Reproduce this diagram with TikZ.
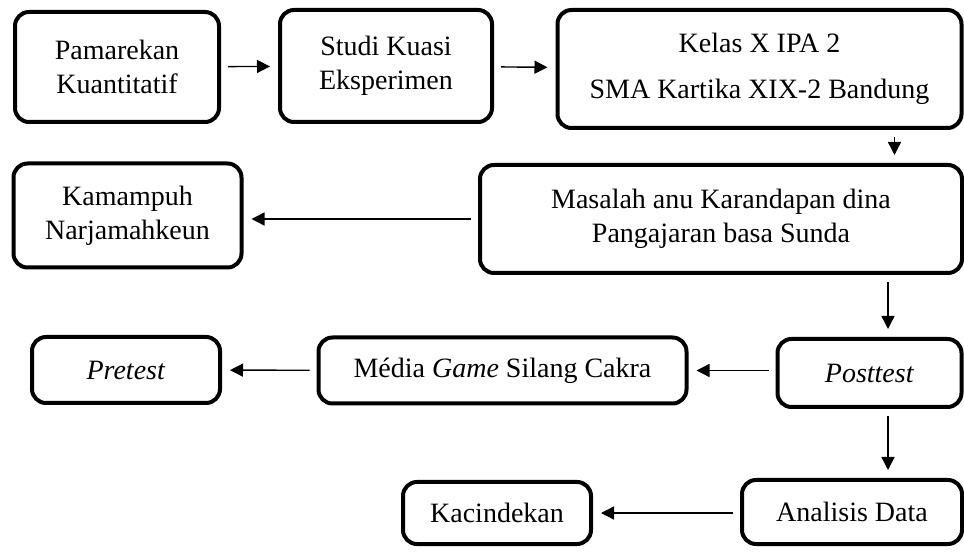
\documentclass[tikz,border=0pt]{standalone}
\usepackage{fontspec}
\setmainfont{Liberation Serif}
\usepackage{tikz}
\usetikzlibrary{arrows.meta,positioning,calc}

\begin{document}
\begin{tikzpicture}[x=0.5pt, y=-0.5pt, thick]
  \tikzstyle{stage} = [rectangle, draw, rounded corners=7pt, line width=2pt, align=center, font=\fontsize{14}{17}\selectfont]
  \tikzstyle{flow} = [-{Triangle[length=6.5pt,width=6.5pt]}, line width=0.7pt, shorten <=3.5pt, shorten >=4pt]

  \useasboundingbox (0,0) rectangle (964,555);

  \node[stage, minimum width=102pt, minimum height=55pt] (kuant) at (117, 67) {Pamarekan\\Kuantitatif};
  \node[stage, minimum width=106pt, minimum height=56pt] (studi) at (386, 66) {Studi Kuasi\\Eksperimen};
  \node[stage, minimum width=202pt, minimum height=59pt] (kelas) at (759.5, 69) {Kelas X IPA 2\\[6pt]SMA Kartika XIX-2 Bandung};

  \node[stage, minimum width=241pt, minimum height=54pt] (masalah) at (721, 219) {Masalah anu Karandapan dina\\Pangajaran basa Sunda};
  \node[stage, minimum width=114pt, minimum height=52pt] (kamampuh) at (127.5, 215.5) {Kamampuh\\Narjamahkeun};

  \node[stage, minimum width=94pt, minimum height=33pt] (pretest) at (126, 370) {\textit{Pretest}};
  \node[stage, minimum width=184pt, minimum height=33pt] (media) at (502.5, 370.5) {Média \textit{Game} Silang Cakra};
  \node[stage, minimum width=92pt, minimum height=34pt] (posttest) at (869.5, 373) {\textit{Posttest}};

  \node[stage, minimum width=94pt, minimum height=31pt] (kacindekan) at (497, 513) {Kacindekan};
  \node[stage, minimum width=110pt, minimum height=32pt] (analisis) at (852, 512) {Analisis Data};

  \draw[flow] (kuant) -- (studi);
  \draw[flow] (studi) -- (kelas);
  \draw[flow] ([xshift=-34.5pt]kelas.south east) -- ([xshift=-34.5pt]kelas.south east |- masalah.north);
  \draw[flow] (masalah) -- (masalah -| kamampuh.east);

  \draw[flow] ([xshift=-38pt]masalah.south east) -- ([xshift=-38pt]masalah.south east |- posttest.north);
  \draw[flow] (posttest.west |- media) -- (media);
  \draw[flow] (media) -- (pretest);

  \draw[flow] ([xshift=-38pt]masalah.south east |- posttest.south) -- ([xshift=-38pt]masalah.south east |- analisis.north);
  \draw[flow] (analisis.west |- kacindekan) -- (kacindekan);
\end{tikzpicture}
\end{document}
